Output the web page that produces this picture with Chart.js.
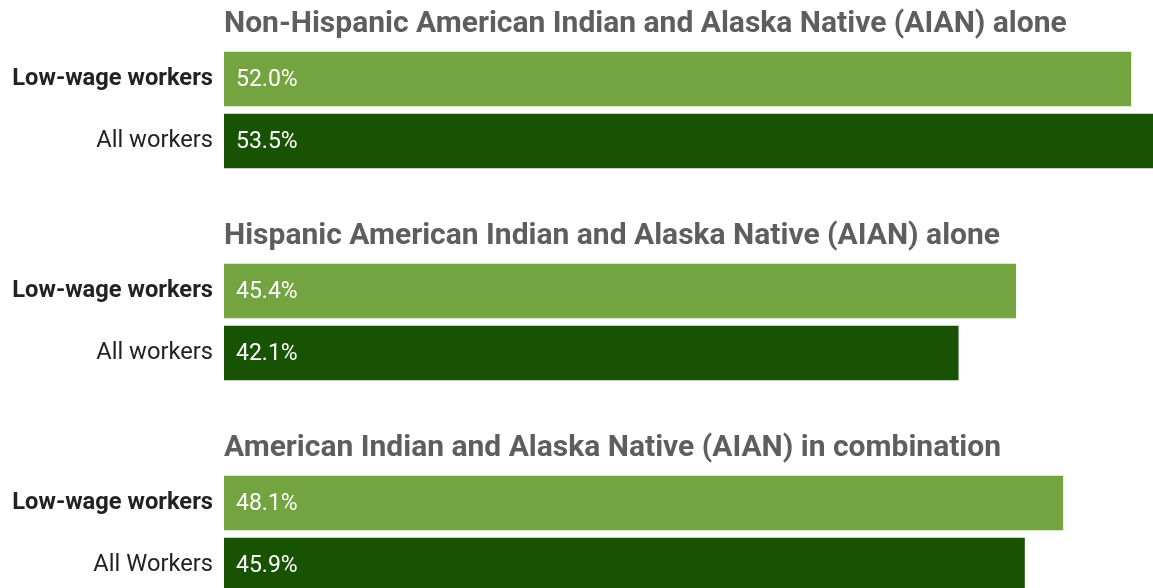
<!DOCTYPE html>
<html>
<head>
<meta charset="utf-8">
<script src="https://cdn.jsdelivr.net/npm/chart.js@4"></script>
<style>
  html, body { margin: 0; padding: 0; background: #fff; overflow: hidden; }
  .grp { position: relative; width: 1153px; height: 212px; }
</style>
</head>
<body>
<div class="grp"><canvas id="chart_grp0"></canvas></div>
<div class="grp"><canvas id="chart_grp1"></canvas></div>
<div class="grp"><canvas id="chart_grp2"></canvas></div>
<script>
var groupTitles = [
    'Non-Hispanic American Indian and Alaska Native (AIAN) alone',
    'Hispanic American Indian and Alaska Native (AIAN) alone',
    'American Indian and Alaska Native (AIAN) in combination'
];
var rowLabels = [
    ['Low-wage workers', 'All workers'],
    ['Low-wage workers', 'All workers'],
    ['Low-wage workers', 'All Workers']
];
var lowWage = [52.0, 45.4, 48.1];
var allWorkers = [53.5, 42.1, 45.9];
var barColors = ['#74a440', '#185203'];

// white value labels inside the bars
var valueLabels = {
    id: 'valueLabels',
    afterDatasetsDraw: (chart) => {
        const ctx = chart.ctx;
        const ds = chart.data.datasets[0];
        const meta = chart.getDatasetMeta(0);
        ctx.save();
        ctx.font = '23px Roboto';
        ctx.fillStyle = '#ffffff';
        ctx.textAlign = 'left';
        ctx.textBaseline = 'middle';
        meta.data.forEach((bar, i) => {
            ctx.fillText(ds.data[i].toFixed(1) + '%', bar.base + 12, bar.y + 1);
        });
        ctx.restore();
    }
};

var charts = [];
for (var g = 0; g < groupTitles.length; g++) {
    charts.push(new Chart(document.getElementById('chart_grp' + g), {
        type: 'bar',
        data: {
            labels: rowLabels[g],
            datasets: [{
                data: [lowWage[g], allWorkers[g]],
                backgroundColor: barColors,
                barThickness: 54
            }]
        },
        options: {
            indexAxis: 'y',
            animation: false,
            responsive: true,
            maintainAspectRatio: false,
            layout: { padding: { top: 0, bottom: 40, left: 0, right: 0 } },
            plugins: {
                legend: { display: false },
                tooltip: { enabled: false },
                title: {
                    display: true,
                    text: groupTitles[g],
                    align: 'start',
                    fullSize: false,
                    color: '#5e5e5e',
                    font: { family: 'Roboto', size: 30, weight: 'bold', lineHeight: 1.2 },
                    padding: { top: 6, bottom: 6 }
                }
            },
            scales: {
                x: {
                    display: false,
                    min: 0,
                    max: 53.27
                },
                y: {
                    grid: { display: false, drawTicks: false },
                    border: { display: false },
                    ticks: {
                        padding: 11,
                        color: '#222222',
                        font: (c) => ({
                            family: 'Roboto',
                            size: 23.7,
                            weight: c.index === 0 ? 'bold' : 'normal'
                        })
                    },
                    afterFit: (scale) => { scale.width = 224; }
                }
            }
        },
        plugins: [valueLabels]
    }));
}
</script>
</body>
</html>
